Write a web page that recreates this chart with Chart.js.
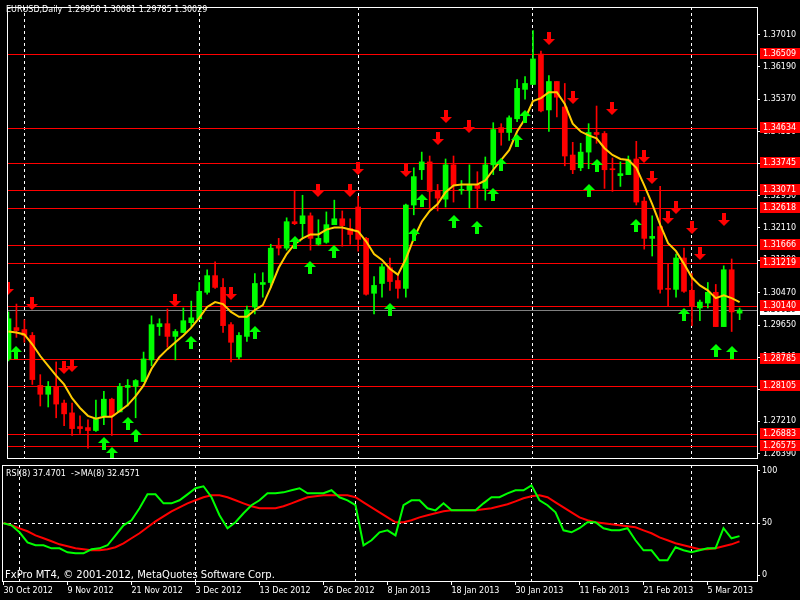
<!DOCTYPE html>
<html>
<head>
<meta charset="utf-8">
<script src="https://cdn.jsdelivr.net/npm/chart.js@4.4.1/dist/chart.umd.min.js"></script>
<style>
  html, body { margin:0; padding:0; background:#000; }
  #wrap { position:relative; width:800px; height:600px; background:#000; overflow:hidden; }
  #c1 { position:absolute; left:0; top:0; }
  #c2 { position:absolute; left:0; top:465px; }
  .lbl { position:absolute; left:6px; color:#fff; font-family:'DejaVu Sans', sans-serif; font-size:8px; line-height:10px; white-space:pre; }
  .foot { font-size:10px; line-height:12px; left:5px; }
</style>
</head>
<body>
<div id="wrap">
  <canvas id="c1" width="800" height="465"></canvas>
  <canvas id="c2" width="800" height="135"></canvas>
  <div class="lbl" id="hdr" style="top:5px"></div>
  <div class="lbl" id="rsiLbl" style="top:469px"></div>
  <div class="lbl foot" style="top:569px">FxPro MT4, © 2001-2012, MetaQuotes Software Corp.</div>
</div>
<script>
// ---------------- DATA ----------------
const symbol = 'EURUSD';
const period = 'Daily';
const dates = ["30 Oct 2012","31 Oct 2012","1 Nov 2012","2 Nov 2012","5 Nov 2012","6 Nov 2012","7 Nov 2012","8 Nov 2012","9 Nov 2012","12 Nov 2012","13 Nov 2012","14 Nov 2012","15 Nov 2012","16 Nov 2012","19 Nov 2012","20 Nov 2012","21 Nov 2012","22 Nov 2012","23 Nov 2012","26 Nov 2012","27 Nov 2012","28 Nov 2012","29 Nov 2012","30 Nov 2012","3 Dec 2012","4 Dec 2012","5 Dec 2012","6 Dec 2012","7 Dec 2012","10 Dec 2012","11 Dec 2012","12 Dec 2012","13 Dec 2012","14 Dec 2012","17 Dec 2012","18 Dec 2012","19 Dec 2012","20 Dec 2012","21 Dec 2012","24 Dec 2012","26 Dec 2012","27 Dec 2012","28 Dec 2012","31 Dec 2012","2 Jan 2013","3 Jan 2013","4 Jan 2013","7 Jan 2013","8 Jan 2013","9 Jan 2013","10 Jan 2013","11 Jan 2013","14 Jan 2013","15 Jan 2013","16 Jan 2013","17 Jan 2013","18 Jan 2013","21 Jan 2013","22 Jan 2013","23 Jan 2013","24 Jan 2013","25 Jan 2013","28 Jan 2013","29 Jan 2013","30 Jan 2013","31 Jan 2013","1 Feb 2013","4 Feb 2013","5 Feb 2013","6 Feb 2013","7 Feb 2013","8 Feb 2013","11 Feb 2013","12 Feb 2013","13 Feb 2013","14 Feb 2013","15 Feb 2013","18 Feb 2013","19 Feb 2013","20 Feb 2013","21 Feb 2013","22 Feb 2013","25 Feb 2013","26 Feb 2013","27 Feb 2013","28 Feb 2013","1 Mar 2013","4 Mar 2013","5 Mar 2013","6 Mar 2013","7 Mar 2013","8 Mar 2013","11 Mar 2013"];

const opens = [1.28790,1.29585,1.29536,1.29387,1.28120,1.27896,1.28095,1.27673,1.27425,1.27077,
1.27052,1.26978,1.27350,1.27772,1.27450,1.28070,1.28095,1.28219,1.28766,1.29610,
1.29684,1.29362,1.29461,1.29709,1.29809,1.30479,1.30901,1.30603,1.29660,1.28840,
1.29362,1.30106,1.30678,1.30727,1.31671,1.31597,1.32267,1.32217,1.32416,1.31696,
1.31745,1.32192,1.32341,1.32093,1.32639,1.31845,1.30454,1.30702,1.31100,1.30777,
1.30578,1.32689,1.33583,1.33782,1.33062,1.32838,1.33707,1.33062,1.33062,1.33186,
1.33111,1.33707,1.34651,1.34527,1.34874,1.35619,1.35743,1.36513,1.35098,1.35818,
1.35172,1.33956,1.33633,1.34030,1.34527,1.34502,1.33608,1.33434,1.33459,1.33856,
1.32788,1.31845,1.32143,1.30578,1.30553,1.31348,1.30529,1.30082,1.30206,1.30479,
1.29610,1.31050,1.29950];
const highs = [1.29982,1.30181,1.29784,1.29461,1.28393,1.28219,1.28716,1.27747,1.27673,1.27350,
1.27251,1.27747,1.27971,1.27797,1.28170,1.28269,1.28269,1.28965,1.29883,1.29809,
1.30057,1.29536,1.30082,1.30256,1.30727,1.31050,1.31249,1.30827,1.29709,1.29461,
1.30131,1.30951,1.30976,1.31696,1.31845,1.32366,1.33037,1.32937,1.32490,1.32317,
1.32515,1.32813,1.32540,1.32341,1.32912,1.31870,1.30876,1.31199,1.31348,1.30901,
1.32714,1.33633,1.34030,1.33931,1.33211,1.33856,1.33931,1.33310,1.33707,1.33533,
1.33906,1.34775,1.34750,1.34949,1.35868,1.35942,1.37109,1.36588,1.35967,1.35818,
1.35768,1.34278,1.34254,1.34750,1.35197,1.34551,1.33881,1.33782,1.33931,1.34303,
1.32888,1.32416,1.33161,1.31199,1.31447,1.31597,1.30951,1.30280,1.30727,1.30678,
1.31150,1.31323,1.30081];
const lows = [1.28741,1.29337,1.29213,1.28145,1.27599,1.27574,1.27301,1.27102,1.26854,1.26903,
1.26531,1.26953,1.27127,1.26854,1.27450,1.27599,1.27301,1.28219,1.28617,1.29387,
1.29089,1.28766,1.29461,1.29610,1.29784,1.30429,1.30578,1.29461,1.28716,1.28790,
1.29237,1.29933,1.30355,1.30603,1.31423,1.31547,1.32192,1.31845,1.31547,1.31671,
1.31721,1.32192,1.31646,1.31696,1.31522,1.30405,1.29933,1.30355,1.30529,1.30330,
1.30355,1.32441,1.33335,1.32590,1.32540,1.32639,1.32764,1.32962,1.32615,1.32615,
1.32813,1.33459,1.34204,1.34328,1.34800,1.35371,1.35743,1.35048,1.34551,1.34924,
1.33682,1.33484,1.33558,1.33608,1.34254,1.33111,1.33037,1.33161,1.33459,1.32689,
1.31572,1.31398,1.30454,1.30131,1.30355,1.30479,1.29635,1.29759,1.30082,1.29610,
1.29610,1.29486,1.29785];
const closes = [1.29809,1.29511,1.29387,1.28269,1.27896,1.28095,1.27648,1.27400,1.27027,1.27027,
1.26978,1.27276,1.27772,1.27350,1.28095,1.28120,1.28244,1.28790,1.29660,1.29684,
1.29362,1.29486,1.29759,1.29833,1.30504,1.30901,1.30603,1.29635,1.29213,1.29387,
1.30032,1.30702,1.30727,1.31597,1.31597,1.32267,1.32217,1.32416,1.31845,1.31845,
1.32192,1.32341,1.32168,1.31944,1.31820,1.30429,1.30653,1.31125,1.30752,1.30578,
1.32689,1.33409,1.33782,1.33037,1.32863,1.33707,1.33186,1.33086,1.33186,1.33111,
1.33707,1.34601,1.34527,1.34899,1.35644,1.35768,1.36389,1.35073,1.35818,1.35421,
1.33931,1.33583,1.34030,1.34527,1.34477,1.33583,1.33583,1.33484,1.33831,1.32764,
1.31845,1.31895,1.30553,1.30553,1.31348,1.30504,1.30131,1.30231,1.30479,1.29610,
1.31050,1.29982,1.30029];

// Moving average drawn on price
const ma8 = [1.29486,1.29461,1.29411,1.29163,1.28865,1.28617,1.28368,1.28145,1.27797,1.27549,
1.27350,1.27276,1.27325,1.27325,1.27474,1.27623,1.27847,1.28120,1.28542,1.28840,
1.29039,1.29213,1.29387,1.29585,1.29833,1.30106,1.30231,1.30181,1.29982,1.29858,
1.29858,1.30032,1.30156,1.30603,1.31100,1.31447,1.31696,1.31845,1.31944,1.31944,
1.32068,1.32118,1.32118,1.32068,1.32019,1.31770,1.31447,1.31299,1.31075,1.30926,
1.31323,1.31845,1.32267,1.32540,1.32714,1.33012,1.33186,1.33211,1.33211,1.33211,
1.33310,1.33583,1.33831,1.34080,1.34551,1.34874,1.35321,1.35396,1.35545,1.35545,
1.35247,1.34750,1.34551,1.34452,1.34378,1.34129,1.33956,1.33856,1.33831,1.33633,
1.33186,1.32714,1.32192,1.31721,1.31522,1.31199,1.30852,1.30653,1.30529,1.30330,
1.30405,1.30330,1.30231];

// RSI(8) and its MA(8)
const rsi8 = [49.7,47.8,41.1,31.5,28.7,28.7,25.8,25.8,22.0,21.0,
21.0,24.9,25.8,28.7,38.2,47.8,52.6,64.1,77.4,77.4,
68.8,68.8,71.7,77.4,83.2,85.1,74.6,57.4,45.0,50.7,
59.3,67.0,71.7,78.4,78.4,79.3,81.3,83.2,78.4,78.4,
78.4,81.3,74.6,71.7,67.0,28.7,33.5,41.1,43.0,38.2,
67.0,71.7,71.7,64.1,62.1,68.8,62.1,62.1,62.1,62.1,
68.8,74.6,74.6,78.4,81.3,81.3,86.0,71.7,67.0,60.2,
43.0,41.1,45.0,50.7,50.7,45.0,43.0,43.0,45.0,33.5,
23.9,23.9,14.3,14.3,26.8,23.9,22.0,23.9,25.8,25.8,
45.0,35.4,37.47];
const rsiMa8 = [50.0,47.8,44.9,42.1,38.2,35.4,32.5,29.6,27.7,25.8,
24.9,23.9,23.9,24.9,26.8,30.6,35.4,40.2,45.9,51.6,
56.4,61.2,65.0,68.8,71.7,74.6,76.5,76.5,74.6,71.7,
68.8,66.0,64.1,64.1,64.1,66.0,68.8,71.7,74.6,75.5,
76.5,76.5,76.5,76.5,74.6,69.8,65.0,60.2,55.4,50.7,
50.7,52.6,55.4,57.4,59.3,61.2,62.1,62.1,62.1,62.1,
63.1,64.1,66.0,67.9,70.7,73.6,75.5,76.5,74.6,69.8,
65.0,60.2,55.4,52.6,50.7,49.7,48.8,47.8,46.8,45.9,
43.0,40.2,36.3,33.5,30.6,28.7,26.8,24.9,24.9,25.8,
27.7,29.6,32.46];
const rsiLast = '37.4701';
const rsiMaLast = '32.4571';

// Horizontal support / resistance levels
const levels = [1.36509,1.34634,1.33745,1.33071,1.32618,1.31666,1.31219,1.30140,1.28785,1.28105,1.26883,1.26575];
const bidPrice = 1.30029;

// Price axis tick labels
const priceTicks = [1.37010,1.36190,1.35370,1.34550,1.33740,1.32930,1.32110,1.31290,1.30470,1.29650,1.28840,1.28020,1.27210,1.26390];
const rsiTicks = [0,50,100];
const dateTickIdx = [0,8,16,24,32,40,48,56,64,72,80,88];

// Fractal arrows (bar index, price)
const downIdx   = [0,3,7,8,21,28,39,43,44,50,54,55,58,68,71,76,80,81,83,84,86,87,90];
const downPrice = [1.30578,1.30206,1.28567,1.28617,1.30280,1.30454,1.33062,1.33062,1.33608,1.33558,1.34378,1.34924,1.34676,1.36911,1.35421,1.35123,1.33931,1.33384,1.32366,1.32639,1.32118,1.31472,1.32317];
const upIdx     = [1,12,13,15,16,23,31,36,38,41,48,51,52,56,59,61,62,64,65,73,74,79,85,89,91];
const upPrice   = [1.28965,1.26655,1.26407,1.27152,1.26854,1.29213,1.29461,1.31745,1.31100,1.31522,1.30032,1.31944,1.32813,1.32267,1.32118,1.32962,1.33707,1.34328,1.34924,1.33062,1.33682,1.32168,1.29908,1.29014,1.28965];

// ---------------- LAYOUT CONSTANTS ----------------
const X_MIN = -0.1875, X_MAX = 94.1875;
const P_MIN = 1.26282, P_MAX = 1.37705;
const R_MIN = -5.45, R_MAX = 105.45;
const FONT = "'DejaVu Sans', sans-serif";
const BULL = '#00ff00', BEAR = '#ff0000';

const n = dates.length;
const idx = dates.map((d, i) => i);
const monthStarts = idx.filter(i => i > 0 && dates[i].split(' ')[1] !== dates[i-1].split(' ')[1]);

document.getElementById('hdr').textContent =
  symbol + ',' + period + '  ' + [opens[n-1], highs[n-1], lows[n-1], closes[n-1]].map(v => v.toFixed(5)).join(' ');
document.getElementById('rsiLbl').textContent = 'RSI(8) ' + rsiLast + '  ->MA(8) ' + rsiMaLast;

function makeArrow(color, up) {
  const c = document.createElement('canvas');
  c.width = 12; c.height = 13;
  const g = c.getContext('2d');
  g.fillStyle = color;
  g.beginPath();
  if (up) {
    g.moveTo(6, 0); g.lineTo(12, 6); g.lineTo(0, 6); g.closePath(); g.fill();
    g.fillRect(4, 6, 4, 7);
  } else {
    g.fillRect(4, 0, 4, 7);
    g.beginPath(); g.moveTo(0, 7); g.lineTo(12, 7); g.lineTo(6, 13); g.closePath(); g.fill();
  }
  return c;
}
const arrowDown = makeArrow('#ff0000', false);
const arrowUp = makeArrow('#00ff00', true);

const candleColor = i => closes[i] >= opens[i] ? BULL : BEAR;

// ---------------- PLUGINS ----------------
const noSmooth = { id: 'noSmooth', beforeDraw(c) { c.ctx.imageSmoothingEnabled = false; } };

const separators = {
  id: 'separators',
  beforeDatasetsDraw(c, args, opts) {
    const { ctx, chartArea: a, scales } = c;
    ctx.save();
    ctx.strokeStyle = '#ffffff';
    ctx.lineWidth = 1;
    ctx.setLineDash([3, 3]);
    monthStarts.forEach(i => {
      const x = Math.round(scales.x.getPixelForValue(i) - 0.5) + 0.5;
      ctx.beginPath(); ctx.moveTo(x, a.top); ctx.lineTo(x, a.bottom); ctx.stroke();
    });
    if (opts && opts.mid != null) {
      const y = Math.round(scales.y.getPixelForValue(opts.mid) - 0.5) + 0.5;
      ctx.beginPath(); ctx.moveTo(a.left, y); ctx.lineTo(a.right, y); ctx.stroke();
    }
    ctx.restore();
  }
};

const levelLines = {
  id: 'levelLines',
  beforeDatasetsDraw(c) {
    const { ctx, chartArea: a, scales: { y } } = c;
    ctx.save();
    ctx.lineWidth = 1;
    ctx.strokeStyle = '#808080';
    let yy = Math.round(y.getPixelForValue(bidPrice)) + 0.5;
    ctx.beginPath(); ctx.moveTo(a.left, yy); ctx.lineTo(a.right, yy); ctx.stroke();
    ctx.strokeStyle = '#ff0000';
    levels.forEach(lv => {
      const ly = Math.round(y.getPixelForValue(lv)) + 0.5;
      ctx.beginPath(); ctx.moveTo(a.left, ly); ctx.lineTo(a.right, ly); ctx.stroke();
    });
    ctx.restore();
  },
  afterDraw(c) {
    const { ctx, scales: { y } } = c;
    ctx.save();
    ctx.font = '8px ' + FONT;
    ctx.textBaseline = 'middle';
    ctx.textAlign = 'left';
    const yb = Math.round(y.getPixelForValue(bidPrice));
    ctx.fillStyle = '#ffffff'; ctx.fillRect(760, yb - 6, 40, 11);
    ctx.fillStyle = '#000000'; ctx.fillText(bidPrice.toFixed(5), 763, yb - 0.5);
    levels.forEach(lv => {
      const ly = Math.round(y.getPixelForValue(lv));
      ctx.fillStyle = '#ff0000'; ctx.fillRect(760, ly - 6, 40, 11);
      ctx.fillStyle = '#ffffff'; ctx.fillText(lv.toFixed(5), 763, ly - 0.5);
    });
    ctx.restore();
  }
};

const frame = {
  id: 'frame',
  afterDraw(c) {
    const { ctx, chartArea: a } = c;
    ctx.save();
    ctx.strokeStyle = '#ffffff'; ctx.lineWidth = 1; ctx.setLineDash([]);
    ctx.strokeRect(a.left + 0.5, a.top + 0.5, a.right - a.left, a.bottom - a.top);
    ctx.restore();
  }
};

function fixY(width) {
  return s => { s.width = width; s.paddingTop = 0; s.paddingBottom = 0; };
}

// ---------------- PRICE CHART ----------------
new Chart(document.getElementById('c1'), {
  type: 'bar',
  data: {
    datasets: [
      {
        type: 'line', label: 'fractal down',
        data: downIdx.map((i, k) => ({ x: i, y: downPrice[k] })),
        showLine: false, pointStyle: arrowDown, pointRadius: 6, order: 0
      },
      {
        type: 'line', label: 'fractal up',
        data: upIdx.map((i, k) => ({ x: i, y: upPrice[k] })),
        showLine: false, pointStyle: arrowUp, pointRadius: 6, order: 0
      },
      {
        type: 'line', label: 'MA',
        data: idx.map(i => ({ x: i, y: ma8[i] })),
        borderColor: '#ffcc00', borderWidth: 2, pointRadius: 0, tension: 0, order: 1
      },
      {
        label: 'body',
        data: idx.map(i => ({ x: i, y: [opens[i], closes[i]] })),
        backgroundColor: idx.map(candleColor),
        barThickness: 5, minBarLength: 1, grouped: false, borderWidth: 0, order: 2
      },
      {
        label: 'wick',
        data: idx.map(i => ({ x: i, y: [lows[i], highs[i]] })),
        backgroundColor: idx.map(candleColor),
        barThickness: 1, grouped: false, borderWidth: 0, order: 3
      }
    ]
  },
  options: {
    responsive: false, animation: false, devicePixelRatio: 1, events: [],
    layout: { padding: { left: 2, top: 1, right: 0, bottom: 4 } },
    plugins: { legend: { display: false }, tooltip: { enabled: false }, separators: {} },
    scales: {
      x: { type: 'linear', min: X_MIN, max: X_MAX, offset: false, display: false },
      y: {
        position: 'right', min: P_MIN, max: P_MAX,
        afterBuildTicks: s => { s.ticks = priceTicks.map(v => ({ value: v })); },
        afterFit: fixY(43),
        border: { display: false },
        grid: { display: true, drawOnChartArea: false, drawTicks: true, tickLength: 3, color: '#ffffff' },
        ticks: { color: '#ffffff', font: { family: FONT, size: 8 }, padding: 3, autoSkip: false,
                 callback: v => Number(v).toFixed(5) }
      }
    }
  },
  plugins: [noSmooth, separators, levelLines, frame]
});

// ---------------- RSI CHART ----------------
new Chart(document.getElementById('c2'), {
  type: 'line',
  data: {
    datasets: [
      { label: 'RSI(8)', data: idx.map(i => ({ x: i, y: rsi8[i] })), borderColor: '#00ff00', borderWidth: 2, pointRadius: 0, tension: 0, order: 0 },
      { label: 'MA(8)', data: idx.map(i => ({ x: i, y: rsiMa8[i] })), borderColor: '#ff0000', borderWidth: 2, pointRadius: 0, tension: 0, order: 1 }
    ]
  },
  options: {
    responsive: false, animation: false, devicePixelRatio: 1, events: [],
    layout: { padding: { left: 2, top: 0, right: 0, bottom: 0 } },
    plugins: { legend: { display: false }, tooltip: { enabled: false }, separators: { mid: 50 } },
    scales: {
      x: {
        type: 'linear', min: X_MIN, max: X_MAX, offset: false, position: 'bottom',
        afterBuildTicks: s => { s.ticks = dateTickIdx.map(v => ({ value: v })); },
        afterFit: s => { s.height = 19; s.paddingLeft = 0; s.paddingRight = 0; },
        border: { display: false },
        grid: { display: true, drawOnChartArea: false, drawTicks: true, tickLength: 4, color: '#ffffff' },
        ticks: { color: '#ffffff', font: { family: FONT, size: 8 }, padding: 1, autoSkip: false,
                 maxRotation: 0, minRotation: 0, align: 'start',
                 callback: v => dates[v] }
      },
      y: {
        position: 'right', min: R_MIN, max: R_MAX,
        afterBuildTicks: s => { s.ticks = rsiTicks.map(v => ({ value: v })); },
        afterFit: fixY(43),
        border: { display: false },
        grid: { display: true, drawOnChartArea: false, drawTicks: true, tickLength: 3, color: '#ffffff' },
        ticks: { color: '#ffffff', font: { family: FONT, size: 8 }, padding: 2, autoSkip: false,
                 callback: v => String(v) }
      }
    }
  },
  plugins: [separators, frame]
});
</script>
</body>
</html>
